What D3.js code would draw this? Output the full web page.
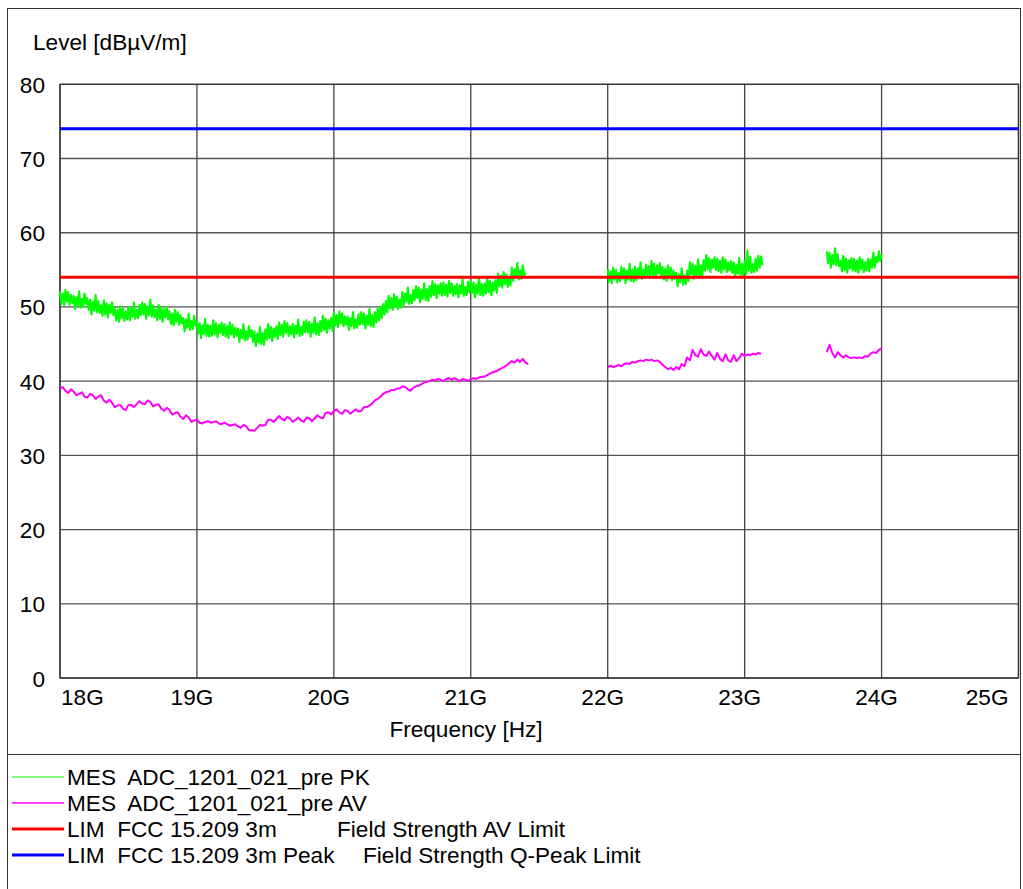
<!DOCTYPE html>
<html><head><meta charset="utf-8">
<script src="https://cdn.jsdelivr.net/npm/d3@7/dist/d3.min.js"></script>
<style>body{margin:0;background:#fff}svg{display:block}text{font-family:"Liberation Sans",Arial,sans-serif;fill:#000}</style>
</head><body>
<svg id="chart" width="1023" height="889"></svg>
<script>
// ---- data (frequencies in GHz, levels in dBµV/m) ----
const xTickValues = [18, 19, 20, 21, 22, 23, 24, 25];
const xTickLabels = ["18G", "19G", "20G", "21G", "22G", "23G", "24G", "25G"];
const yTickValues = [0, 10, 20, 30, 40, 50, 60, 70, 80];
const avLimit = 54;   // FCC 15.209 3m AV
const pkLimit = 74;   // FCC 15.209 3m Peak

// PK trace, sweep step 0.01 GHz
const pk1Start = 18.00, pkStep = 0.01;
const pk1 = [
52.1,50.4,51.8,50.2,52.3,50.7,52.0,50.3,51.6,50.5,
51.5,49.7,51.3,50.2,52.1,49.9,51.1,50.0,51.8,50.4,
51.2,49.6,51.0,49.0,50.7,49.5,51.6,49.3,50.8,49.2,
50.2,48.8,50.9,49.0,50.5,48.6,50.3,49.2,50.6,48.9,
49.9,48.2,49.6,48.0,50.1,48.5,49.8,48.1,49.4,48.3,
50.0,48.2,49.8,48.7,50.6,48.4,49.6,48.5,50.3,48.9,
50.6,49.0,50.4,48.4,50.1,48.9,51.0,48.7,50.2,48.6,
49.6,48.2,50.3,48.4,49.9,48.0,49.7,48.6,50.0,48.3,
49.4,47.7,49.1,47.5,49.6,48.0,49.3,47.6,48.9,47.8,
48.5,46.7,48.3,47.2,49.1,46.9,48.1,47.0,48.8,47.4,
48.0,46.4,47.8,45.8,47.5,46.3,48.4,46.1,47.6,46.0,
47.5,46.1,48.2,46.3,47.8,45.9,47.6,46.5,47.9,46.2,
47.7,46.0,47.4,45.8,47.9,46.3,47.6,45.9,47.2,46.1,
47.1,45.3,46.9,45.8,47.7,45.5,46.7,45.6,47.4,46.0,
46.9,45.3,46.7,44.7,46.4,45.2,47.3,45.0,46.5,44.9,
47.0,45.6,47.7,45.8,47.3,45.4,47.1,46.0,47.4,45.7,
47.9,46.2,47.6,46.0,48.1,46.5,47.8,46.1,47.4,46.3,
47.7,45.9,47.5,46.4,48.3,46.1,47.3,46.2,48.0,46.6,
48.2,46.6,48.0,46.0,47.7,46.5,48.6,46.3,47.8,46.2,
48.1,46.7,48.8,46.9,48.4,46.5,48.2,47.1,48.5,46.8,
49.2,47.5,48.9,47.3,49.4,47.8,49.1,47.4,48.7,47.6,
48.7,46.9,48.5,47.4,49.3,47.1,48.3,47.2,49.0,47.6,
49.3,47.7,49.1,47.1,48.8,47.6,49.7,47.4,48.9,47.3,
49.3,47.9,49.8,48.2,50.0,48.5,50.4,49.0,50.8,49.3,
51.5,49.8,51.2,49.6,51.7,50.1,51.4,49.7,51.0,49.9,
52.0,50.2,51.8,50.7,52.6,50.4,51.6,50.5,52.3,50.9,
52.8,51.2,52.6,50.6,52.3,51.1,53.2,50.9,52.4,50.8,
52.8,51.4,53.5,51.6,53.1,51.2,52.9,51.8,53.2,51.5,
53.3,51.6,53.0,51.4,53.5,51.9,53.2,51.5,52.8,51.7,
53.1,51.3,52.9,51.8,53.7,51.5,52.7,51.6,53.4,52.0,
53.5,51.9,53.3,51.3,53.0,51.8,53.9,51.6,53.1,51.5,
53.2,51.8,53.9,52.0,53.5,51.6,53.3,52.2,53.6,51.9,
54.5,52.8,54.2,52.6,54.7,53.1,54.4,52.7,54.0,52.9,
55.3,53.5,55.1,54.0,55.9,53.7,54.9,53.8,55.6,54.2,
54.6];
const pk2Start = 22.00;
const pk2 = [
55.1,53.4,54.8,53.2,55.3,53.7,55.0,53.3,54.6,53.5,
55.4,53.8,55.2,53.2,54.9,53.7,55.8,53.5,55.0,53.4,
55.4,53.6,55.2,54.1,56.0,53.8,55.0,53.9,55.7,54.3,
55.5,54.1,56.2,54.3,55.8,53.9,55.6,54.5,55.9,54.2,
55.4,53.7,55.1,53.5,55.6,54.0,55.3,53.6,54.9,53.8,
54.6,52.8,54.4,53.3,55.2,53.0,54.2,53.1,54.9,53.5,
56.0,54.4,55.8,53.8,55.5,54.3,56.4,54.1,55.6,54.0,
56.3,54.9,57.0,55.1,56.6,54.7,56.4,55.3,56.7,55.0,
56.5,54.8,56.2,54.6,56.7,55.1,56.4,54.7,56.0,54.9,
56.2,54.6,56.0,54.0,55.7,54.5,56.6,54.3,55.8,54.2,
56.2,54.4,57.6,54.9,56.8,54.6,55.8,54.7,56.5,54.9,
56.9,55.3,56.8,55.6];
const pk3Start = 23.60;
const pk3 = [
57.5,55.9,57.3,55.3,57.0,55.8,57.9,55.6,57.1,55.5,
56.2,54.8,56.9,55.0,56.5,54.6,56.3,55.2,56.6,54.9,
56.5,54.8,56.2,54.6,56.7,55.1,56.4,54.7,56.0,54.9,
56.5,54.8,56.4,55.3,57.3,55.3,56.7,56.0,57.5,56.2,
57.0];

// AV trace, sweep step 0.02 GHz
const avStep = 0.02;
const av1Start = 18.00;
const av1 = [
39.0,39.2,38.7,38.4,38.9,38.6,38.1,38.3,38.5,37.9,
37.8,38.3,38.1,37.6,37.9,38.1,37.4,37.1,37.5,37.1,
36.5,36.7,36.8,36.3,36.1,36.8,36.8,36.5,36.9,37.3,
37.0,36.9,37.4,37.2,36.6,36.8,36.9,36.3,36.0,36.4,
36.1,35.5,35.7,35.8,35.2,34.9,35.4,35.1,34.5,34.7,
34.8,34.4,34.3,34.5,34.6,34.4,34.5,34.6,34.3,34.2,
34.4,34.2,34.0,34.1,34.2,33.9,33.7,34.1,33.9,33.4,
33.4,33.3,33.7,34.1,34.0,34.1,34.8,34.8,34.5,34.9,
35.3,34.9,34.7,35.2,35.0,34.5,34.8,35.1,34.7,34.5,
35.1,35.0,34.6,35.0,35.4,35.1,35.0,35.7,35.8,35.5,
36.0,36.2,35.8,35.6,36.1,36.0,35.6,35.9,36.2,35.9,
36.0,36.5,36.5,36.7,37.0,37.4,37.6,37.9,38.3,38.5,
38.6,38.8,38.8,39.0,39.0,39.3,39.2,38.9,38.7,39.1,
39.3,39.4,39.6,39.8,39.9,40.0,40.2,40.1,40.3,40.2,
40.0,40.3,40.4,40.2,40.4,40.2,40.0,40.3,40.2,40.0,
40.3,40.4,40.3,40.5,40.6,40.6,40.8,41.0,41.2,41.3,
41.5,41.7,41.9,42.1,42.4,42.7,42.5,42.9,42.6,43.0,
42.5,42.3];
const av2Start = 22.00;
const av2 = [
41.9,42.1,41.9,42.0,42.2,42.0,42.3,42.4,42.3,42.6,
42.5,42.7,42.8,42.7,42.9,42.8,42.9,42.7,42.8,42.6,
42.2,41.9,41.6,41.8,41.5,41.9,41.6,42.3,42.0,43.2,
42.8,44.2,43.5,43.3,44.3,43.6,43.4,44.0,43.4,42.9,
43.8,43.0,42.7,43.6,42.8,42.6,43.5,42.7,43.1,43.7,
43.4,43.6,43.5,43.7,43.6,43.8,43.7];
const av3Start = 23.60;
const av3 = [
43.9,44.9,43.8,43.2,43.9,43.5,43.2,43.5,43.2,43.1,
43.2,43.1,43.2,43.1,43.4,43.3,43.7,43.9,43.8,44.2,
44.4];

const legendLabels = [
  ["MES  ADC_1201_021_pre PK", ""],
  ["MES  ADC_1201_021_pre AV", ""],
  ["LIM  FCC 15.209 3m", "Field Strength AV Limit"],
  ["LIM  FCC 15.209 3m Peak", "Field Strength Q-Peak Limit"]
];

// ---- drawing ----
const svg = d3.select("#chart");
const plot = {left: 60, right: 1018.5, top: 84.3, bottom: 678};
const x = d3.scaleLinear().domain([18, 25]).range([plot.left, plot.right]);
const y = d3.scaleLinear().domain([0, 80]).range([plot.bottom, plot.top]);
const FONT = 22.6;

// outer frame and separator
svg.append("rect").attr("x", 7.5).attr("y", 8.5).attr("width", 1013).attr("height", 900)
  .attr("fill", "none").attr("stroke", "#333").attr("stroke-width", 1);
svg.append("line").attr("x1", 7.5).attr("x2", 1020.5).attr("y1", 754.5).attr("y2", 754.5)
  .attr("stroke", "#333").attr("stroke-width", 1);

// grid
const g = svg.append("g");
g.selectAll(".hg").data(yTickValues).join("line")
  .attr("x1", plot.left).attr("x2", plot.right)
  .attr("y1", d => y(d)).attr("y2", d => y(d))
  .attr("stroke", "#555").attr("stroke-width", 1.3);
g.selectAll(".vg").data(xTickValues).join("line")
  .attr("x1", d => x(d)).attr("x2", d => x(d))
  .attr("y1", plot.top).attr("y2", plot.bottom)
  .attr("stroke", "#444").attr("stroke-width", 1.3);
svg.append("rect").attr("x", plot.left).attr("y", plot.top)
  .attr("width", plot.right - plot.left).attr("height", plot.bottom - plot.top)
  .attr("fill", "none").attr("stroke", "#333").attr("stroke-width", 1.3);

// y tick labels
svg.selectAll(".yl").data(yTickValues).join("text")
  .attr("x", 45).attr("y", d => y(d) + 1).attr("text-anchor", "end")
  .attr("dominant-baseline", "central").attr("font-size", FONT).text(d => d);

// x tick labels
svg.selectAll(".xl").data(xTickValues).join("text")
  .attr("x", (d, i) => i === 0 ? x(d) + 1 : (i === xTickValues.length - 1 ? x(d) - 10 : x(d) - 5))
  .attr("y", 705)
  .attr("text-anchor", (d, i) => i === 0 ? "start" : (i === xTickValues.length - 1 ? "end" : "middle"))
  .attr("font-size", FONT).text((d, i) => xTickLabels[i]);

svg.append("text").attr("x", 466).attr("y", 737).attr("text-anchor", "middle")
  .attr("font-size", FONT).text("Frequency [Hz]");
svg.append("text").attr("x", 33).attr("y", 50).attr("font-size", FONT).text("Level [dBµV/m]");

// traces
const line = d3.line().x(d => x(d.f)).y(d => y(d.v));
function toPoints(start, step, vals) { return vals.map((v, i) => ({f: start + i * step, v})); }
const pkSegs = [toPoints(pk1Start, pkStep, pk1), toPoints(pk2Start, pkStep, pk2), toPoints(pk3Start, pkStep, pk3)];
const avSegs = [toPoints(av1Start, avStep, av1), toPoints(av2Start, avStep, av2), toPoints(av3Start, avStep, av3)];

svg.append("g").selectAll("path").data(pkSegs).join("path")
  .attr("d", line).attr("fill", "none").attr("stroke", "#00ff00").attr("stroke-width", 2.1)
  .attr("stroke-linejoin", "round");
svg.append("g").selectAll("path").data(avSegs).join("path")
  .attr("d", line).attr("fill", "none").attr("stroke", "#ff00ff").attr("stroke-width", 2)
  .attr("stroke-linejoin", "round");

// limit lines
svg.append("line").attr("x1", plot.left).attr("x2", plot.right)
  .attr("y1", y(avLimit)).attr("y2", y(avLimit)).attr("stroke", "#ff0000").attr("stroke-width", 3);
svg.append("line").attr("x1", plot.left).attr("x2", plot.right)
  .attr("y1", y(pkLimit)).attr("y2", y(pkLimit)).attr("stroke", "#0000ff").attr("stroke-width", 3);

// legend
const legColors = ["#00ff00", "#ff00ff", "#ff0000", "#0000ff"];
const legWidths = [1.2, 1.5, 3, 3];
const legSecondX = [0, 0, 337, 363];
const lg = svg.append("g");
legendLabels.forEach((lab, i) => {
  const cy = 777 + i * 26;
  lg.append("line").attr("x1", 12).attr("x2", 64).attr("y1", cy).attr("y2", cy)
    .attr("stroke", legColors[i]).attr("stroke-width", legWidths[i]);
  lg.append("text").attr("x", 67).attr("y", cy + 8).attr("font-size", FONT)
    .attr("xml:space", "preserve").style("white-space", "pre").text(lab[0]);
  if (lab[1]) lg.append("text").attr("x", legSecondX[i]).attr("y", cy + 8)
    .attr("font-size", FONT).text(lab[1]);
});
</script>
</body></html>
